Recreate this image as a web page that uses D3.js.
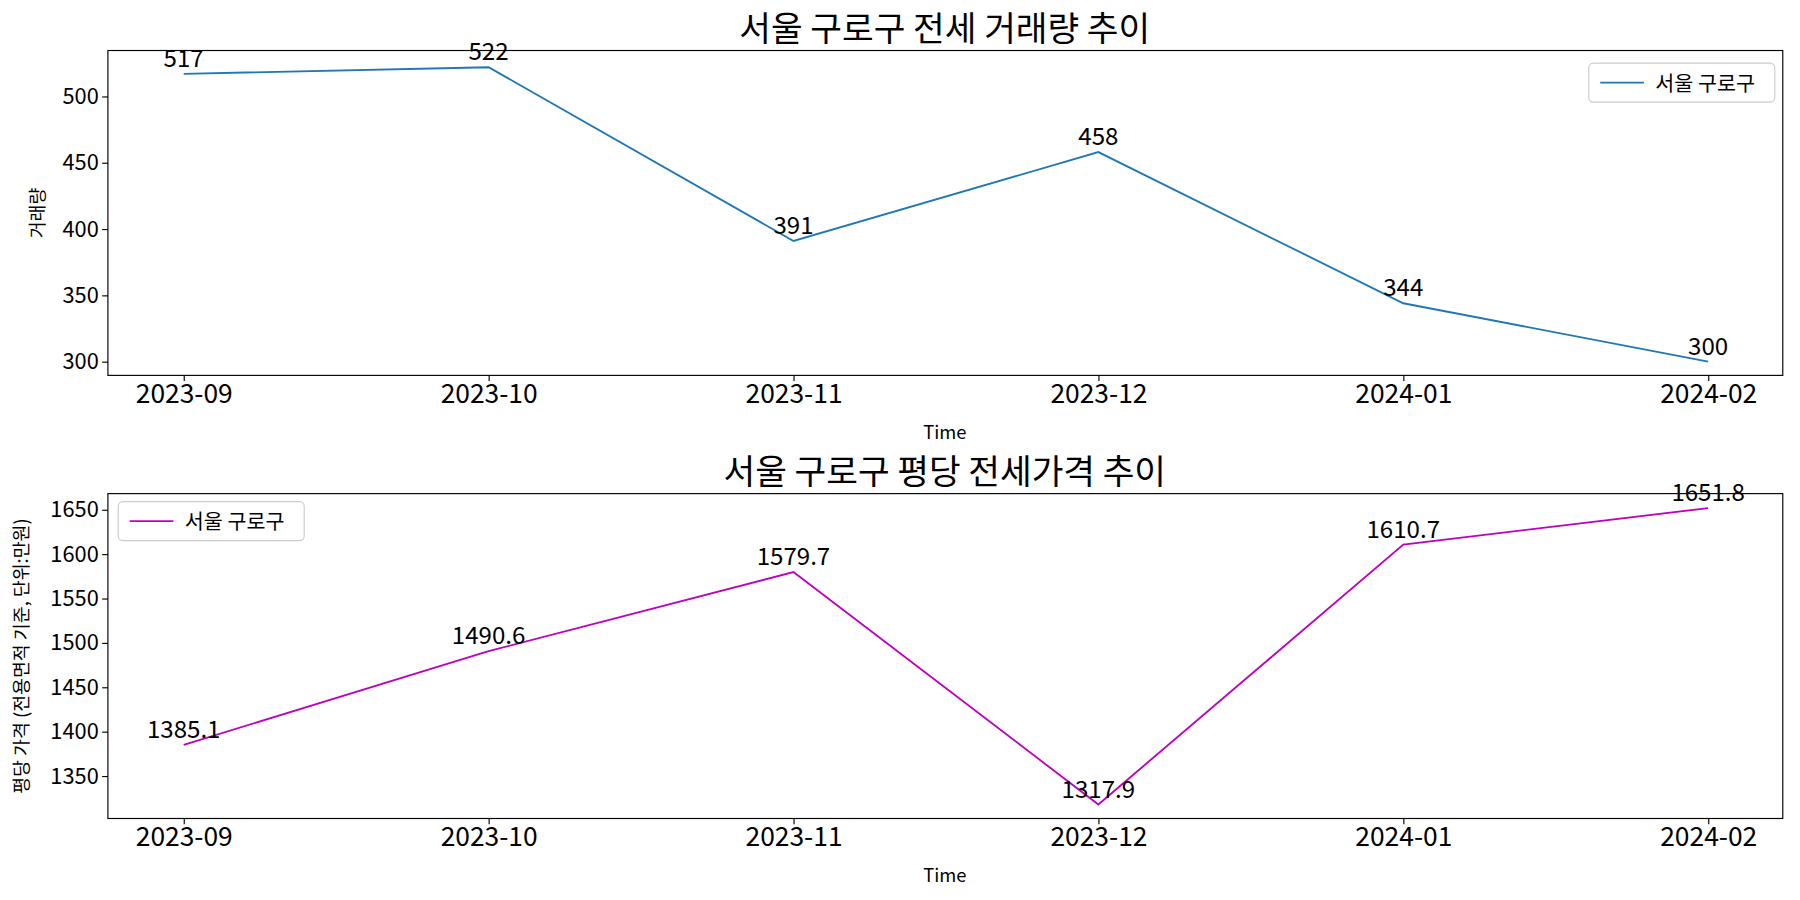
<!DOCTYPE html><html><head><meta charset="utf-8"><script src="https://cdn.jsdelivr.net/npm/d3@7"></script>
<style>body{margin:0;background:#fff}text{font-family:"Noto Sans CJK KR","Noto Sans",sans-serif}</style></head><body>
<svg id="c" width="1800" height="900" viewBox="0 0 1568 784"></svg>
<script>
const months=["2023-09","2023-10","2023-11","2023-12","2024-01","2024-02"];
const volume=[517,522,391,458,344,300];
const price=[1385.1,1490.6,1579.7,1317.9,1610.7,1651.8];
const volTicks=[300,350,400,450,500];
const priceTicks=[1350,1400,1450,1500,1550,1600,1650];
const svg=d3.select("#c");
function panel(o){
  const g=svg.append("g");
  const x=d3.scalePoint().domain(months).range([160,1488]);
  const y=d3.scaleLinear().domain(o.dom).range([o.y1,o.y0]);
  const xa=g.append("g").attr("transform",`translate(0,${o.y1})`).call(d3.axisBottom(x).tickSize(5).tickPadding(3));
  xa.selectAll("text").attr("font-size",23).attr("fill","#000");
  xa.select(".domain").remove();
  const ya=g.append("g").attr("transform","translate(94,0)").call(d3.axisLeft(y).tickValues(o.ticks).tickFormat(d3.format("d")).tickSize(5).tickPadding(3));
  ya.selectAll("text").attr("font-size",19).attr("fill","#000");
  ya.select(".domain").remove();
  g.append("rect").attr("x",94).attr("y",o.y0).attr("width",1553-94).attr("height",o.y1-o.y0).attr("fill","none").attr("stroke","#000").attr("stroke-width",1);
  g.append("path").datum(o.data).attr("fill","none").attr("stroke",o.color).attr("stroke-width",1.6)
   .attr("d",d3.line().x((d,i)=>x(months[i])).y(d=>y(d)));
  g.selectAll(".lab").data(o.data).enter().append("text").attr("x",(d,i)=>x(months[i])).attr("y",d=>y(d)-6)
   .attr("text-anchor","middle").attr("font-size",21).text(d=>o.fmt(d));
  g.append("text").attr("x",823).attr("y",o.y0-8).attr("text-anchor","middle").attr("font-size",30).text(o.title);
  g.append("text").attr("x",823).attr("y",o.y1+55).attr("text-anchor","middle").attr("font-size",16).text("Time");
  g.append("text").attr("transform",`translate(${o.ylx},${(o.y0+o.y1)/2}) rotate(-90)`).attr("text-anchor","middle").attr("font-size",16).text(o.ylabel);
  const L=g.append("g").attr("transform",`translate(${o.lx},${o.ly})`);
  L.append("rect").attr("width",162).attr("height",34).attr("rx",4).attr("fill","#fff").attr("stroke","#ccc");
  L.append("line").attr("x1",10).attr("x2",48).attr("y1",17).attr("y2",17).attr("stroke",o.color).attr("stroke-width",1.6);
  L.append("text").attr("x",58).attr("y",24).attr("font-size",18).text("서울 구로구");
}
panel({y0:44,y1:327,dom:[289.6,534.6],ticks:volTicks,data:volume,color:"#1f77b4",fmt:d=>d,title:"서울 구로구 전세 거래량 추이",ylabel:"거래량",ylx:38,lx:1384,ly:55});
panel({y0:430,y1:713,dom:[1302.1,1668.1],ticks:priceTicks,data:price,color:"#bf00bf",fmt:d=>d.toFixed(1),title:"서울 구로구 평당 전세가격 추이",ylabel:"평당 가격 (전용면적 기준, 단위:만원)",ylx:24,lx:103,ly:437});
</script></body></html>
